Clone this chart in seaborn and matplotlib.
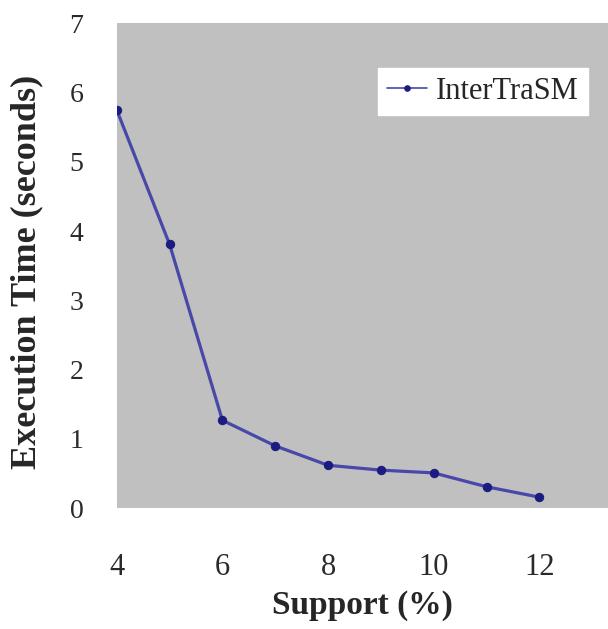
import numpy as np
import pandas as pd
import matplotlib
matplotlib.use("Agg")
import matplotlib.pyplot as plt
import seaborn as sns

SUPPORT = [4, 5, 6, 7, 8, 9, 10, 11, 12]
EXEC_TIME = [5.75, 3.81, 1.27, 0.90, 0.62, 0.55, 0.51, 0.31, 0.16]
SERIES = "InterTraSM"
X_TICKS = [4, 6, 8, 10, 12]
Y_TICKS = [0, 1, 2, 3, 4, 5, 6, 7]

sns.set_style("white")
plt.rcParams["font.family"] = ["Liberation Serif", "DejaVu Serif"]

df = pd.DataFrame({"support": SUPPORT, "time": EXEC_TIME, "series": SERIES})

fig = plt.figure(figsize=(6.08, 6.29), dpi=100)
ax = fig.add_axes([0.192, 0.192, 0.808, 0.771])
ax.set_facecolor("#c0c0c0")

sns.lineplot(
    data=df, x="support", y="time", hue="series", palette=["#4848a8"],
    marker="o", markersize=6, markerfacecolor="#1c1c80", markeredgecolor="#1c1c80",
    linewidth=2.3, ax=ax,
)

ax.set_xlim(4, 13.3)
ax.set_ylim(0, 7)
ax.set_xticks(X_TICKS)
ax.set_yticks(Y_TICKS)
ax.tick_params(axis="x", labelsize=22, length=4, color="#dde6ee", pad=28)
ax.tick_params(axis="y", labelsize=20, length=4, color="#dde6ee", pad=20)
for lab in ax.get_xticklabels() + ax.get_yticklabels():
    lab.set_color("#2a2a2a")
for s in ax.spines.values():
    s.set_visible(False)

ax.set_xlabel("Support (%)", fontsize=24, fontweight="bold", labelpad=6)
ax.set_ylabel("Execution Time (seconds)", fontsize=26, fontweight="bold")
ax.yaxis.set_label_coords(-0.15, 0.487)

leg = ax.legend(
    loc="upper right", bbox_to_anchor=(0.99, 0.94), fontsize=22, frameon=True,
    fancybox=False, edgecolor="white", facecolor="white", framealpha=1,
    handlelength=1.3, handletextpad=0.3, borderpad=0.3,
)
for line in leg.get_lines():
    line.set_linewidth(1.2)
    line.set_markersize(4)

fig.savefig("out.png", dpi=100)
